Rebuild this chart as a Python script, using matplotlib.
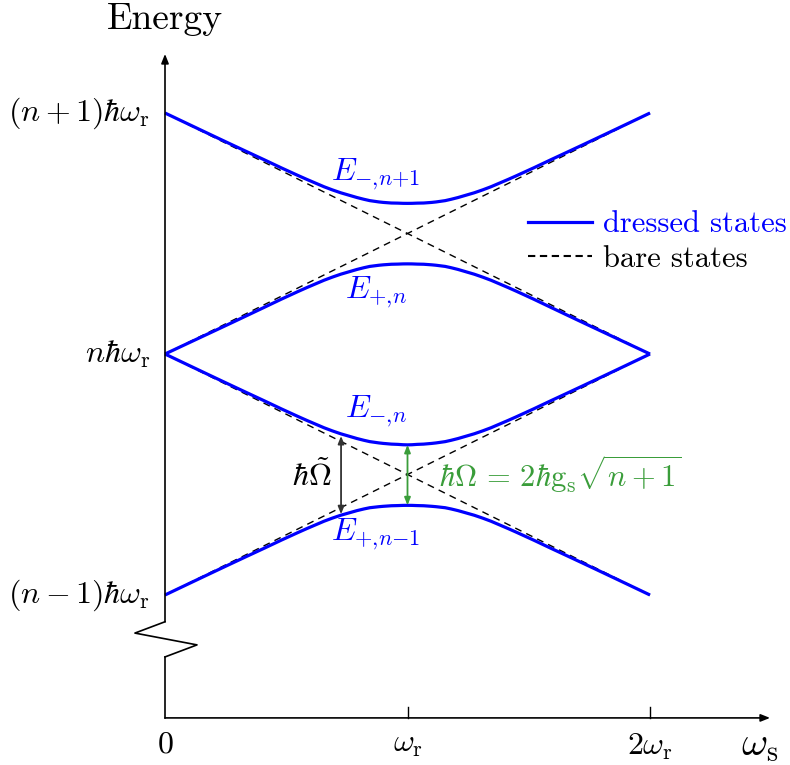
import matplotlib
matplotlib.use("Agg")
import matplotlib.pyplot as plt
from matplotlib.path import Path
from matplotlib.patches import PathPatch
from matplotlib.lines import Line2D

plt.rcParams['font.family'] = 'serif'
plt.rcParams['font.serif'] = ['cmr10']
plt.rcParams['mathtext.fontset'] = 'cm'
plt.rcParams['axes.unicode_minus'] = False

# ---- data (x in units of omega_r, energy relative to n*hbar*omega_r) ----
omega_s = [0, 0.14, 0.28, 0.41, 0.55, 0.69, 0.82, 0.9, 0.96, 1.0,
           1.04, 1.1, 1.18, 1.31, 1.45, 1.59, 1.72, 1.86, 2.0]
E_minus_n1 = [1.0, 0.933, 0.8665, 0.8055, 0.740, 0.681, 0.642, 0.629, 0.626, 0.625,
              0.626, 0.629, 0.642, 0.681, 0.740, 0.8055, 0.8665, 0.933, 1.0]
E_plus_n = [0.0, 0.066, 0.132, 0.194, 0.260, 0.319, 0.358, 0.370, 0.373, 0.374,
            0.373, 0.370, 0.358, 0.319, 0.260, 0.194, 0.132, 0.066, 0.0]
E_minus_n = [0.0, -0.067, -0.1335, -0.1945, -0.260, -0.319, -0.358, -0.371, -0.375, -0.377,
             -0.375, -0.371, -0.358, -0.319, -0.260, -0.1945, -0.1335, -0.067, 0.0]
E_plus_nm1 = [-1.0, -0.933, -0.8665, -0.8055, -0.740, -0.681, -0.643, -0.632, -0.629, -0.628,
              -0.629, -0.632, -0.643, -0.681, -0.740, -0.8055, -0.8665, -0.933, -1.0]

bare_x = [0, 2]
bare_lines = [[1, 0], [0, 1], [0, -1], [-1, 0]]

y_ticks = [1, 0, -1]
y_ticklabels = [r'$(n+1)\hbar\omega_\mathrm{r}$', r'$n\hbar\omega_\mathrm{r}$',
                r'$(n-1)\hbar\omega_\mathrm{r}$']
x_ticks = [0, 1, 2]
x_ticklabels = [r'$0$', r'$\omega_\mathrm{r}$', r'$2\omega_\mathrm{r}$']

curve_labels = [r'$E_{-{,}n{+}1}$', r'$E_{+{,}n}$', r'$E_{-{,}n}$', r'$E_{+{,}n{-}1}$']

# Rabi arrows
tilde_x = 0.726
tilde_y = [-0.34, -0.665]
rabi_x = 1.0
rabi_y = [-0.377, -0.628]

BLUE = '#0000ff'
GREEN = '#3a9d3a'
FS = 23
DASH = (0, (5.0, 3.8))

fig = plt.figure(figsize=(7.9, 7.65), dpi=100)
ax = fig.add_axes([0, 0, 1, 1])
ax.set_xlim(-165 / 242.5, (790 - 165) / 242.5)
ax.set_ylim(-(765 - 354) / 241, 354 / 241)
ax.axis('off')


def smooth_path(xs, ys):
    """Catmull-Rom spline through the points, rendered as cubic Beziers."""
    pts = list(zip(xs, ys))
    verts = [pts[0]]
    codes = [Path.MOVETO]
    n = len(pts)
    for i in range(n - 1):
        p0 = pts[i - 1] if i > 0 else pts[i]
        p1 = pts[i]
        p2 = pts[i + 1]
        p3 = pts[i + 2] if i + 2 < n else pts[i + 1]
        c1 = (p1[0] + (p2[0] - p0[0]) / 6, p1[1] + (p2[1] - p0[1]) / 6)
        c2 = (p2[0] - (p3[0] - p1[0]) / 6, p2[1] - (p3[1] - p1[1]) / 6)
        verts += [c1, c2, p2]
        codes += [Path.CURVE4] * 3
    return Path(verts, codes)


# bare states
for yy in bare_lines:
    ax.plot(bare_x, yy, color='black', lw=1.0, ls=DASH, zorder=2)

# dressed states
for yy in [E_minus_n1, E_plus_n, E_minus_n, E_plus_nm1]:
    ax.add_patch(PathPatch(smooth_path(omega_s, yy), facecolor='none',
                           edgecolor=BLUE, lw=2.3, joinstyle='round', zorder=3))

# axes with break
y_bot = -1.51
y_top = 1.245
x_end = 2.495
brk = [(0, -1.111), (-0.124, -1.158), (0.132, -1.207), (0, -1.257)]
ax.plot([p[0] for p in brk], [p[1] for p in brk], color='black', lw=1.2)
ax.plot([0, 0], [-1.257, y_bot], color='black', lw=1.2, solid_capstyle='projecting')
aprops = dict(arrowstyle='-|>,head_length=0.55,head_width=0.22', color='black',
              lw=1.2, shrinkA=0, shrinkB=0)
ax.annotate('', xy=(0, y_top), xytext=(0, -1.111), arrowprops=aprops)
ax.annotate('', xy=(x_end, y_bot), xytext=(0, y_bot), arrowprops=aprops)
for xt in x_ticks[1:]:
    ax.plot([xt, xt], [y_bot, y_bot + 0.046], color='black', lw=1.0)

# tick labels
for yt, lab in zip(y_ticks, y_ticklabels):
    ax.text(-0.06, yt, lab, ha='right', va='center', fontsize=FS)
for xt, lab in zip(x_ticks, x_ticklabels):
    ax.text(xt, y_bot - 0.055, lab, ha='center', va='top', fontsize=FS)
ax.text(2.375, -1.625, r'$\omega_\mathrm{s}$', ha='left', va='center', fontsize=29)
ax.text(0, 1.39, 'Energy', ha='center', va='center', fontsize=27)

# curve labels
ax.text(0.87, 0.745, curve_labels[0], color=BLUE, ha='center', va='center', fontsize=FS)
ax.text(0.87, 0.255, curve_labels[1], color=BLUE, ha='center', va='center', fontsize=FS)
ax.text(0.87, -0.24, curve_labels[2], color=BLUE, ha='center', va='center', fontsize=FS)
ax.text(0.87, -0.75, curve_labels[3], color=BLUE, ha='center', va='center', fontsize=FS)

# arrows
dprops = dict(arrowstyle='<|-|>,head_length=0.45,head_width=0.18', lw=1.3,
              shrinkA=0, shrinkB=0)
ax.annotate('', xy=(tilde_x, tilde_y[0]), xytext=(tilde_x, tilde_y[1]),
            arrowprops=dict(dprops, color='#333333'))
ax.annotate('', xy=(rabi_x, rabi_y[0]), xytext=(rabi_x, rabi_y[1]),
            arrowprops=dict(dprops, color=GREEN))
ax.text(tilde_x - 0.04, -0.505, r'$\hbar\tilde{\Omega}$', ha='right', va='center', fontsize=FS)
ax.text(1.13, -0.50, r'$\hbar\Omega\,=\,2\hbar\mathrm{g}_\mathrm{s}\sqrt{n+1}$', color=GREEN,
        ha='left', va='center', fontsize=22)

# legend
handles = [Line2D([], [], color=BLUE, lw=2.3),
           Line2D([], [], color='black', lw=1.5, ls=(0, (3.5, 2.2)))]
leg = ax.legend(handles, ['dressed states', 'bare states'],
                loc='upper left', bbox_to_anchor=(528 / 790, 1 - 211 / 765),
                bbox_transform=fig.transFigure, frameon=False, fontsize=22,
                handlelength=2.1, handletextpad=0.35, labelspacing=0.22,
                borderpad=0, borderaxespad=0)
leg.get_texts()[0].set_color(BLUE)

fig.savefig('out.png', dpi=100)
